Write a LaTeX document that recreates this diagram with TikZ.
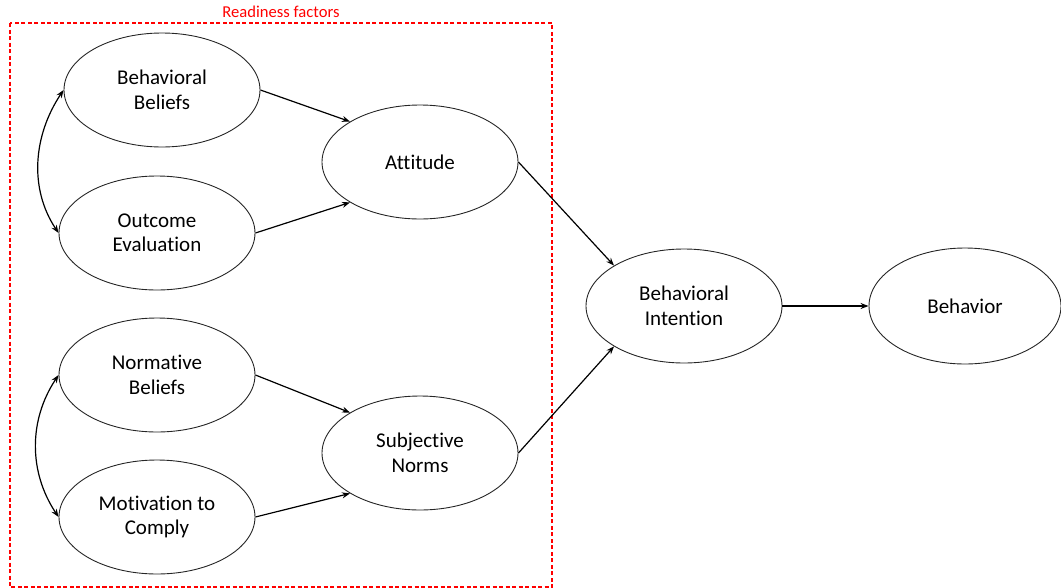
\documentclass[tikz,border=0pt]{standalone}
\usepackage{fontspec}
\setmainfont[Ligatures=NoCommon]{Carlito}
\usetikzlibrary{shapes.geometric,arrows.meta}
\tikzset{
  construct/.style={ellipse, draw=black!85, line width=0.9pt, inner sep=0pt,
    minimum width=196pt, minimum height=114pt, align=center,
    font=\fontsize{21}{24.5}\selectfont, text=black},
  link/.style={line width=1.2pt, -{Stealth[length=8pt,width=6pt]}},
  twoway/.style={line width=1.2pt, {Stealth[length=8pt,width=6pt]}-{Stealth[length=8pt,width=6pt]}},
  frame/.style={draw=red, line width=1.4pt, dash pattern=on 4pt off 2.5pt}
}
\begin{document}
\begin{tikzpicture}[x=1pt,y=-1pt]
\useasboundingbox (0,0) rectangle (1061,587);

% readiness factors group
\draw[frame] (10,23) rectangle (552,587);
\node[text=red, font=\fontsize{16.6}{19}\selectfont] (ready) at (281,12) {Readiness factors};

% constructs
\node[construct] (bb)  at (162,90)  {Behavioral\\Beliefs};
\node[construct] (oe)  at (157,233) {Outcome\\Evaluation};
\node[construct] (nb)  at (157,375) {Normative\\Beliefs};
\node[construct] (mc)  at (157,517) {Motivation to\\Comply};
\node[construct] (att) at (420,162) {Attitude};
\node[construct] (sn)  at (420,453) {Subjective\\Norms};
\node[construct] (bi)  at (684,306) {Behavioral\\Intention};
\node[construct, minimum width=192pt, minimum height=116pt] (beh) at (965,306) {Behavior};

% correlations between belief pairs
\draw[twoway] (bb.west) .. controls +(-30,45) and +(-30,-45) .. (oe.west);
\draw[twoway] (nb.west) .. controls +(-30,45) and +(-30,-45) .. (mc.west);

% causal paths
\draw[link] (bb.east) -- (att.150);
\draw[link] (oe.east) -- (att.210);
\draw[link] (nb.east) -- (sn.150);
\draw[link] (mc.east) -- (sn.210);
\draw[link] (att.east) -- (bi.150);
\draw[link] (sn.east) -- (bi.210);
\draw[link] (bi.east) -- (beh.west);
\end{tikzpicture}
\end{document}
